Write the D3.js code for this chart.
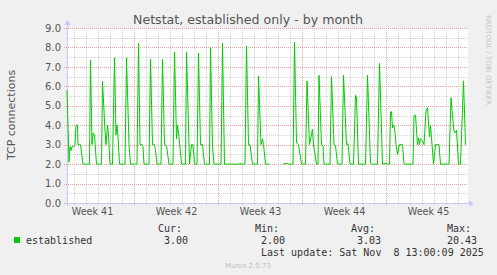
<!DOCTYPE html>
<html><head><meta charset="utf-8">
<script src="https://cdn.jsdelivr.net/npm/d3@7"></script>
<style>
html,body{margin:0;padding:0;background:#f0f0f0;}
svg{display:block;}
</style></head>
<body>
<script>
// ---- data (hours since Monday of week 41) ----
const hours = [34,38,40,42,44,47,50,52,55,56,61,66,79,81,84,86,89,93,103,105,110,112,115,117,120,125,129,132,134,136,139,150,153,158,161,174,177,180,184,186,188,198,201,205,209,211,214,222,225,229,233,238,246,249,253,255,258,263,271,273,279,283,286,289,294,297,301,305,309,319,321,325,328,342,345,349,379,380,382,390,393,397,400,405,415,417,422,425,427,431,439,440,466,474,476,486,489,493,497,503,511,514,519,525,527,533,536,538,543,546,548,560,563,568,571,575,584,587,593,596,600,607,611,613,617,631,635,641,643,655,659,665,672,674,679,681,683,685,687,689,692,695,699,705,708,726,728,731,735,737,739,741,745,748,752,755,759,761,764,767,771,778,781,798,802,805,808,811,813,817,821,827,831];
const established = [5.8,2.1,2.9,2.7,2.9,2.9,3.0,4.0,4.0,3.0,3.0,2.0,2.0,7.35,3.0,3.6,3.5,2.0,2.0,6.24,3.7,3.0,4.0,3.5,2.0,2.0,7.47,3.5,4.0,3.4,2.0,2.0,7.47,3.0,2.0,2.0,8.21,3.0,3.0,2.9,2.0,2.0,7.39,3.0,3.0,2.7,2.0,2.0,7.39,3.0,2.95,2.0,2.0,7.77,3.3,4.0,3.4,2.0,2.0,7.77,2.0,3.0,3.0,2.0,2.0,7.7,3.0,3.0,2.0,2.0,7.99,2.9,2.0,2.0,8.21,2.0,2.0,2.05,2.0,2.0,8.07,3.0,3.0,2.0,2.0,6.53,3.0,3.3,3.0,2.0,2.0,null,2.0,2.05,2.0,2.0,8.28,3.1,3.0,2.0,2.0,6.28,3.0,3.8,3.0,2.0,2.0,6.57,3.0,2.95,2.0,2.0,6.5,3.0,2.95,2.0,2.0,6.57,3.0,3.05,2.0,2.0,5.54,5.44,2.0,2.0,6.57,2.05,2.0,2.0,7.18,2.0,2.05,2.0,2.0,4.68,4.7,3.86,4.0,3.9,3.0,2.5,3.0,3.0,2.0,2.0,4.5,4.5,3.0,3.35,3.0,3.3,3.2,3.0,4.73,4.9,3.4,4.0,3.0,2.0,3.0,3.0,2.0,2.0,5.42,4.45,3.7,3.6,3.75,2.0,2.0,6.28,3.0];
const yTicks = [0,1,2,3,4,5,6,7,8,9];
const weekTickHours = [168,336,504,672];
const weekLabels = ["Week 41","Week 42","Week 43","Week 44","Week 45"];
const weekLabelHours = [84,252,420,588,756];
const statHeads = ["Cur:","Min:","Avg:","Max:"];
const statValues = ["3.00","2.00","3.03","20.43"];
const seriesName = "established";
const title = "Netstat, established only - by month";
const yTitle = "TCP connections";
const lastUpdate = "Last update: Sat Nov  8 13:00:09 2025";
const footer = "Munin 2.0.73";
const watermark = "RRDTOOL / TOBI OETIKER";

// ---- layout ----
const W = 497, H = 275;
const svg = d3.select("body").append("svg").attr("width", W).attr("height", H);
svg.append("rect").attr("width", W).attr("height", H).attr("fill", "#f0f0f0");

const x = d3.scaleLinear().domain([34, 836]).range([67, 468]);
const y = d3.scaleLinear().domain([0, 9]).range([203, 28]);

// plot background
svg.append("rect").attr("x", x(34)).attr("y", y(9)).attr("width", x(836) - x(34)).attr("height", y(0) - y(9)).attr("fill", "#ffffff");

const g = svg.append("g");
// minor horizontal grid (half units)
const halfTicks = d3.range(0.5, 9, 1);
g.selectAll(".hmin").data(halfTicks).enter().append("line")
  .attr("x1", x(34) - 2).attr("x2", x(836)).attr("y1", d => Math.round(y(d)) + 0.5).attr("y2", d => Math.round(y(d)) + 0.5)
  .attr("stroke", "#d4d4d4").attr("stroke-dasharray", "1,1").attr("stroke-width", 1);
// minor vertical grid (days)
const dayHours = d3.range(48, 836, 24).filter(h => weekTickHours.indexOf(h) < 0);
g.selectAll(".vmin").data(dayHours).enter().append("line")
  .attr("y1", y(9)).attr("y2", y(0) + 2).attr("x1", d => Math.round(x(d)) + 0.5).attr("x2", d => Math.round(x(d)) + 0.5)
  .attr("stroke", "#d4d4d4").attr("stroke-dasharray", "1,1").attr("stroke-width", 1);
// major horizontal grid
g.selectAll(".hmaj").data(yTicks.filter(d => d > 0)).enter().append("line")
  .attr("x1", x(34) - 3).attr("x2", x(836)).attr("y1", d => Math.round(y(d)) + 0.5).attr("y2", d => Math.round(y(d)) + 0.5)
  .attr("stroke", "#eba3a3").attr("stroke-dasharray", "1,1").attr("stroke-width", 1);
// major vertical grid
g.selectAll(".vmaj").data(weekTickHours).enter().append("line")
  .attr("y1", y(9)).attr("y2", y(0) + 3).attr("x1", d => Math.round(x(d)) + 0.5).attr("x2", d => Math.round(x(d)) + 0.5)
  .attr("stroke", "#eba3a3").attr("stroke-dasharray", "1,1").attr("stroke-width", 1);

// axes lines with arrows
const axisCol = "#c8c8f4";
svg.append("line").attr("x1", x(34) - 3).attr("x2", x(836) + 2).attr("y1", y(0) + 0.5).attr("y2", y(0) + 0.5).attr("stroke", axisCol);
svg.append("line").attr("x1", x(34) + 0.5).attr("x2", x(34) + 0.5).attr("y1", y(0) + 3).attr("y2", y(9) - 4).attr("stroke", axisCol);
svg.append("path").attr("d", `M${x(34)-2.5},${y(9)-3} L${x(34)+0.5},${y(9)-8} L${x(34)+3.5},${y(9)-3} Z`).attr("fill", axisCol);
svg.append("path").attr("d", `M${x(836)+1},${y(0)-2.5} L${x(836)+6},${y(0)+0.5} L${x(836)+1},${y(0)+3.5} Z`).attr("fill", axisCol);

// data line
const line = d3.line().defined(d => d[1] !== null).x(d => x(d[0])).y(d => y(d[1]));
const pts = hours.map((h, i) => [h, established[i]]);
svg.append("path").datum(pts).attr("d", line).attr("fill", "none").attr("stroke", "#00cc00").attr("stroke-width", 1);

// y axis labels
const yAxis = d3.axisLeft(y).tickValues(yTicks).tickFormat(d3.format(".1f")).tickSize(0).tickPadding(6);
const ya = svg.append("g").attr("transform", `translate(${x(34)},0)`).call(yAxis);
ya.select(".domain").remove();
ya.selectAll("text").attr("font-family", "DejaVu Sans").attr("font-size", 10).attr("fill", "#555");

// x axis labels
const xAxis = d3.axisBottom(x).tickValues(weekLabelHours).tickFormat((d, i) => weekLabels[i]).tickSize(0).tickPadding(5);
const xa = svg.append("g").attr("transform", `translate(0,${y(0)})`).call(xAxis);
xa.select(".domain").remove();
xa.selectAll("text").attr("font-family", "DejaVu Sans").attr("font-size", 9.6).attr("fill", "#555");

// title
svg.append("text").attr("x", 248).attr("y", 24).attr("text-anchor", "middle")
  .attr("font-family", "DejaVu Sans").attr("font-size", 12.6).attr("fill", "#555").text(title);
// y title
svg.append("text").attr("transform", "translate(15,115) rotate(-90)").attr("text-anchor", "middle")
  .attr("font-family", "DejaVu Sans").attr("font-size", 11).attr("fill", "#555").text(yTitle);
// watermark
svg.append("text").attr("transform", "translate(485.5,15) rotate(90)").attr("text-anchor", "start")
  .attr("font-family", "DejaVu Sans").attr("font-size", 7).attr("fill", "#c4c4c4").text(watermark);

// legend
const mono = "DejaVu Sans Mono";
svg.append("rect").attr("x", 14).attr("y", 237).attr("width", 6).attr("height", 6).attr("fill", "#00cc00");
svg.append("text").attr("x", 26).attr("y", 243.5).attr("font-family", mono).attr("font-size", 10).attr("fill", "#333").text(seriesName);
const headX = [158, 255, 351, 447];
const valX = [164, 261, 357, 447];
statHeads.forEach((s, i) => {
  svg.append("text").attr("x", headX[i]).attr("y", 231.5).attr("font-family", mono).attr("font-size", 10).attr("fill", "#333").text(s);
  svg.append("text").attr("x", valX[i]).attr("y", 243.5).attr("font-family", mono).attr("font-size", 10).attr("fill", "#333").text(statValues[i]);
});
svg.append("text").attr("x", 261).attr("y", 255.5).attr("font-family", mono).attr("font-size", 10).attr("fill", "#333")
  .attr("xml:space", "preserve").style("white-space", "pre").text(lastUpdate);
svg.append("text").attr("x", 248).attr("y", 268).attr("text-anchor", "middle")
  .attr("font-family", "DejaVu Sans").attr("font-size", 7).attr("fill", "#bdbdbd").text(footer);
</script>
</body></html>
